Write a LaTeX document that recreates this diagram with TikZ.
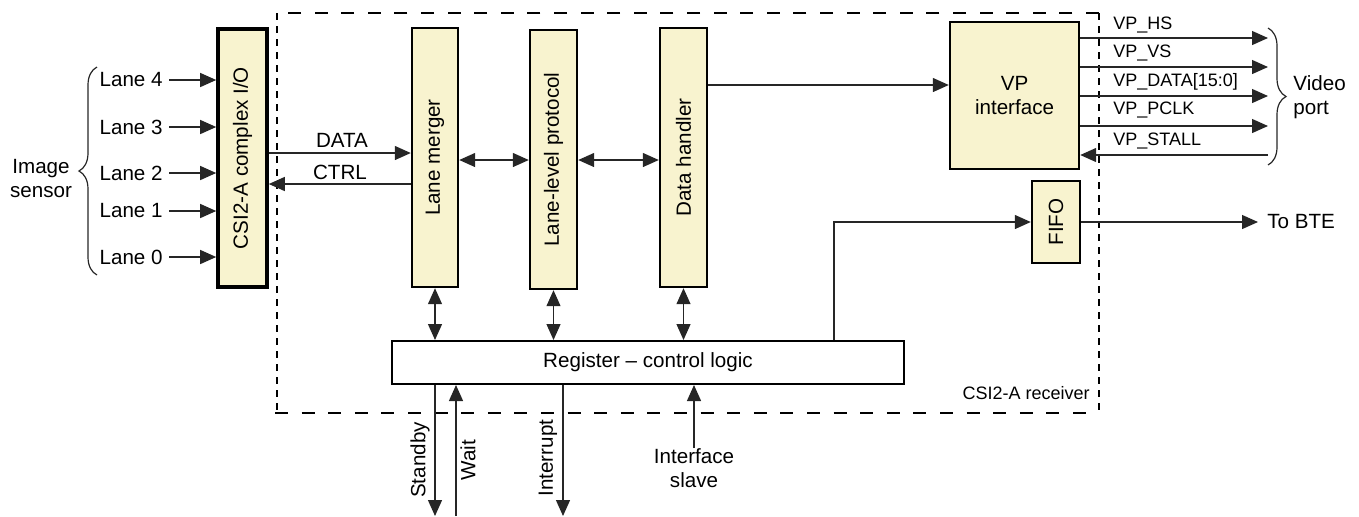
\documentclass[tikz,border=0pt]{standalone}
\usepackage{fontspec}
\setmainfont{Liberation Sans}
\usetikzlibrary{arrows.meta,decorations.pathreplacing,calc}
\definecolor{boxfill}{HTML}{F8F3CF}
\definecolor{ln}{HTML}{262626}
\begin{document}
\begin{tikzpicture}[x=0.5pt,y=-0.5pt,
  font=\fontsize{10.3}{12}\selectfont,
  small/.style={font=\fontsize{9}{11}\selectfont},
  blk/.style={draw=black,fill=boxfill,line width=1.2pt,inner sep=0pt},
  lbl/.style={inner sep=0pt},
  vlbl/.style={inner sep=0pt,rotate=90},
  tip/.tip={Triangle[length=8pt,width=7pt]},
  arr/.style={draw=ln,line width=0.65pt,-tip},
  darr/.style={draw=ln,line width=0.65pt,tip-tip},
  brc/.style={draw=ln,line width=0.6pt,decorate,decoration={brace,amplitude=9pt,aspect=0.5}}
]
\useasboundingbox (0,0) rectangle (1359,516);

% dashed receiver boundary
\draw[line width=1pt,dash pattern=on 6.5pt off 6.8pt] (1099,13) -- (275,13);
\draw[line width=1pt,dash pattern=on 6.5pt off 6.8pt] (275,413) -- (1099,413);
\draw[line width=1.4pt,dash pattern=on 3.5pt off 3pt] (277,13) -- (277,413);
\draw[line width=1.4pt,dash pattern=on 3.5pt off 3pt] (1099,13) -- (1099,413);
\node[lbl,small,anchor=east] (rcv) at (1090,393) {CSI2-A receiver};

% blocks
\node[blk,line width=1.8pt,minimum width=24.5pt,minimum height=129pt] (csi) at (242.5,158) {};
\node[vlbl] (csit) at (csi) {CSI2-A complex I/O};
\node[blk,minimum width=23pt,minimum height=129.5pt] (lm) at (435,157.5) {};
\node[vlbl] (lmt) at (lm) {Lane merger};
\node[blk,minimum width=23.5pt,minimum height=129.5pt] (llp) at (553.5,159.5) {};
\node[vlbl] (llpt) at (llp) {Lane-level protocol};
\node[blk,minimum width=23.5pt,minimum height=129.5pt] (dh) at (683.5,157.5) {};
\node[vlbl] (dht) at (dh) {Data handler};
\node[blk,minimum width=64.5pt,minimum height=73.5pt,align=center] (vp) at (1014.5,95.5) {VP\\interface};
\node[blk,minimum width=24pt,minimum height=41pt] (fifo) at (1056,222) {};
\node[vlbl] (fifot) at (fifo) {FIFO};
\node[draw=black,fill=white,line width=1pt,minimum width=256pt,minimum height=21.5pt,inner sep=0pt] (reg) at (648,362.5) {Register -- control logic};

% lanes
\foreach \n/\y in {4/80,3/127,2/173,1/211,0/257}{
  \node[anchor=east,inner xsep=3pt,inner ysep=0pt] (lane\n) at (169,\y) {Lane \n};
  \draw[arr] (lane\n.east) -- (csi.west |- lane\n.east);
}
\draw[brc] (97,275) -- (97,67);
\node[lbl,align=center] (sensor) at (41,179) {Image\\sensor};

% DATA / CTRL
\coordinate (dataY) at (0,153);
\coordinate (ctrlY) at (0,184);
\draw[arr] (csi.east |- dataY) -- (lm.west |- dataY);
\draw[arr] (lm.west |- ctrlY) -- (csi.east |- ctrlY);
\node[lbl] (datal) at (342,140) {DATA};
\node[lbl] (ctrll) at (340,172) {CTRL};

% internal links
\coordinate (midY) at (0,160);
\draw[darr] (lm.east |- midY) -- (llp.west |- midY);
\draw[darr] (llp.east |- midY) -- (dh.west |- midY);
\coordinate (vpinY) at (0,85);
\draw[arr] (dh.east |- vpinY) -- (vp.west |- vpinY);

% register links
\draw[darr] (lm.south) -- (lm.south |- reg.north);
\draw[darr] (llp.south) -- (llp.south |- reg.north);
\draw[darr] (dh.south) -- (dh.south |- reg.north);

% FIFO path
\coordinate (fifoX) at (834,0);
\draw[arr] (reg.north -| fifoX) |- (fifo.west);
\node[anchor=west,inner xsep=4.5pt,inner ysep=0pt] (bte) at (1258,222) {To BTE};
\draw[arr] (fifo.east) -- (bte.west);

% video port
\foreach \i/\y in {1/38,2/67,3/96,4/126}{
  \coordinate (vpo\i) at (1268,\y);
  \draw[arr] (vp.east |- vpo\i) -- (vpo\i);
}
\coordinate (vpo5) at (1268,155);
\draw[arr] (vpo5) -- (vp.east |- vpo5);
\node[lbl,small,anchor=west] (hs) at (1113,25) {VP\_HS};
\node[lbl,small,anchor=west] (vs) at (1113,53) {VP\_VS};
\node[lbl,small,anchor=west] (vd) at (1113,82) {VP\_DATA[15:0]};
\node[lbl,small,anchor=west] (pc) at (1113,110) {VP\_PCLK};
\node[lbl,small,anchor=west] (st) at (1113,141) {VP\_STALL};
\draw[brc] (1268,28) -- (1268,165);
\node[lbl,anchor=west,align=left] (vport) at (1293,97) {Video\\port};

% bottom signals
\coordinate (sb) at (435,516);
\coordinate (wt) at (456,516);
\coordinate (ir) at (563,516);
\draw[arr] (reg.south -| sb) -- (sb);
\draw[arr] (wt) -- (reg.south -| wt);
\draw[arr] (reg.south -| ir) -- (ir);
\node[vlbl] (sbl) at (420,460) {Standby};
\node[vlbl] (wtl) at (468,460) {Wait};
\node[vlbl] (irl) at (548,458) {Interrupt};
\node[lbl,align=center,anchor=north] (isl) at (694,448) {Interface\\slave};
\draw[arr] (isl.north) -- (reg.south -| isl.north);
\end{tikzpicture}
\end{document}
